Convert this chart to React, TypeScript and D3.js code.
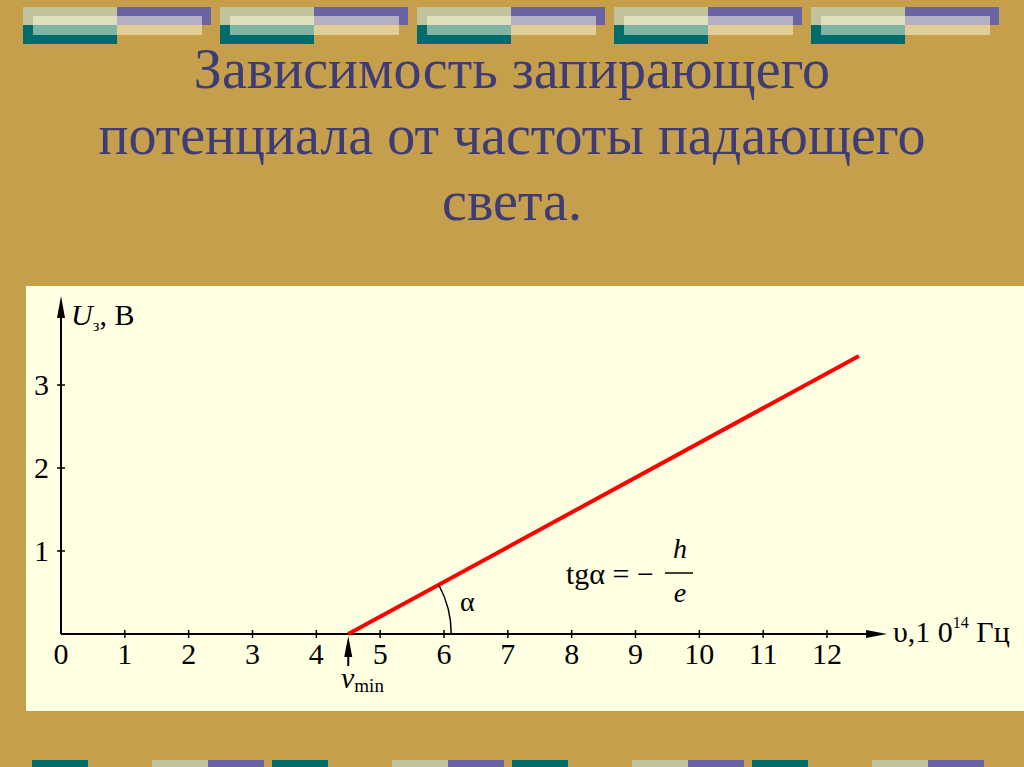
import React from "react";
import * as d3 from "d3";

const titleLines = ["Зависимость запирающего", "потенциала от частоты падающего", "света."];
const xTicks = [0, 1, 2, 3, 4, 5, 6, 7, 8, 9, 10, 11, 12];
const yTicks = [1, 2, 3];
const nuValues = [4.5, 12.5];
const uValues = [0, 3.35];
const nuMin = 4.5;
const topBlockStarts = [23, 220, 417, 614, 811];
const bottomTeal = [32, 272, 512, 752];
const bottomPair = [152, 392, 632, 872];

const GOLD = "#c59f4c";
const CREAM = "#ffffe2";
const TEAL = "#006c6b";
const PURPLE = "#6a63a4";
const SAGE = "#c0c39b";
const TITLE = "#3d3c76";
const SERIF = "'Liberation Serif', 'Times New Roman', serif";

export default function App() {
  const x = d3.scaleLinear().domain([0, 12]).range([61, 827]);
  const y = d3.scaleLinear().domain([0, 3]).range([634, 385]);
  const lineGen = d3
    .line<number>()
    .x((d) => x(d))
    .y((_, i) => y(uValues[i]));
  const x0 = x(nuMin);
  const y0 = y(0);
  const slopeAng = Math.atan2(y(0) - y(uValues[1]), x(nuValues[1]) - x(nuValues[0]));
  const r = 103;
  const arc = `M${x0 + r},${y0} A${r},${r} 0 0 0 ${x0 + r * Math.cos(slopeAng)},${y0 - r * Math.sin(slopeAng)}`;

  return (
    <svg
      width={1024}
      height={767}
      style={{ position: "absolute", left: 0, top: 0, display: "block" }}
    >
      <rect x={0} y={0} width={1024} height={767} fill={GOLD} />
      {topBlockStarts.map((s, i) => (
        <g key={i}>
          <rect x={s} y={7} width={94} height={18} fill={SAGE} />
          <rect x={s + 94} y={7} width={94} height={18} fill={PURPLE} />
          <rect x={s} y={25} width={94} height={19} fill={TEAL} />
          <rect x={s + 10} y={16} width={169} height={19} fill="#fffbe0" opacity={0.5} />
        </g>
      ))}
      {bottomTeal.map((s, i) => (
        <rect key={"bt" + i} x={s} y={760} width={56} height={7} fill={TEAL} />
      ))}
      {bottomPair.map((s, i) => (
        <g key={"bp" + i}>
          <rect x={s} y={760} width={56} height={7} fill={SAGE} />
          <rect x={s + 56} y={760} width={56} height={7} fill={PURPLE} />
        </g>
      ))}
      {titleLines.map((t, i) => (
        <text
          key={i}
          x={512}
          y={88 + i * 66}
          textAnchor="middle"
          fontFamily={SERIF}
          fontSize={56}
          fill={TITLE}
        >
          {t}
        </text>
      ))}
      <rect x={26} y={286} width={998} height={425} fill={CREAM} />

      {/* axes */}
      <line x1={x(0)} y1={y0} x2={878} y2={y0} stroke="#000" strokeWidth={2} />
      <path d={`M887,${y0} L866,${y0 - 4} L866,${y0 + 4} Z`} fill="#000" />
      <line x1={x(0)} y1={y0} x2={x(0)} y2={305} stroke="#000" strokeWidth={2} />
      <path d={`M${x(0)},296 L${x(0) - 4},318 L${x(0) + 4},318 Z`} fill="#000" />

      {xTicks.map((t) => (
        <g key={"x" + t}>
          {t > 0 && <line x1={x(t)} y1={y0 - 4} x2={x(t)} y2={y0 + 4} stroke="#000" strokeWidth={1.5} />}
          <text x={x(t)} y={664} textAnchor="middle" fontFamily={SERIF} fontSize={30} fill="#000">
            {t}
          </text>
        </g>
      ))}
      {yTicks.map((t) => (
        <g key={"y" + t}>
          <line x1={x(0) - 4} y1={y(t)} x2={x(0) + 4} y2={y(t)} stroke="#000" strokeWidth={1.5} />
          <text x={49} y={y(t) + 10} textAnchor="end" fontFamily={SERIF} fontSize={30} fill="#000">
            {t}
          </text>
        </g>
      ))}

      <text x={71} y={325} fontFamily={SERIF} fontSize={30} fill="#000">
        <tspan fontStyle="italic">U</tspan>
        <tspan fontSize={17} dy={6}>з</tspan>
        <tspan dy={-6}>, В</tspan>
      </text>

      <text x={893} y={642} fontFamily={SERIF} fontSize={30} fill="#000">
        <tspan>υ,1 0</tspan>
        <tspan fontSize={16} dy={-14}>14</tspan>
        <tspan dy={14}> Гц</tspan>
      </text>

      {/* data line */}
      <path d={lineGen(nuValues) || ""} fill="none" stroke="#ff0000" strokeWidth={4} />

      {/* angle */}
      <path d={arc} fill="none" stroke="#000" strokeWidth={1.5} />
      <text x={460} y={611} fontFamily={SERIF} fontSize={28} fill="#000">
        α
      </text>

      {/* nu min arrow */}
      <line x1={x0} y1={666} x2={x0} y2={648} stroke="#000" strokeWidth={2} />
      <path d={`M${x0},636 L${x0 - 4},657 L${x0 + 4},657 Z`} fill="#000" />
      <text x={341} y={688} fontFamily={SERIF} fontSize={30} fill="#000">
        <tspan fontStyle="italic">ν</tspan>
        <tspan fontSize={19} dy={4}>min</tspan>
      </text>

      {/* formula */}
      <text x={566} y={584} fontFamily={SERIF} fontSize={30} fill="#000">
        tgα = −
      </text>
      <line x1={665} y1={573} x2={693} y2={573} stroke="#000" strokeWidth={1.5} />
      <text x={680} y={558} textAnchor="middle" fontFamily={SERIF} fontStyle="italic" fontSize={28} fill="#000">
        h
      </text>
      <text x={680} y={602} textAnchor="middle" fontFamily={SERIF} fontStyle="italic" fontSize={28} fill="#000">
        e
      </text>
    </svg>
  );
}
